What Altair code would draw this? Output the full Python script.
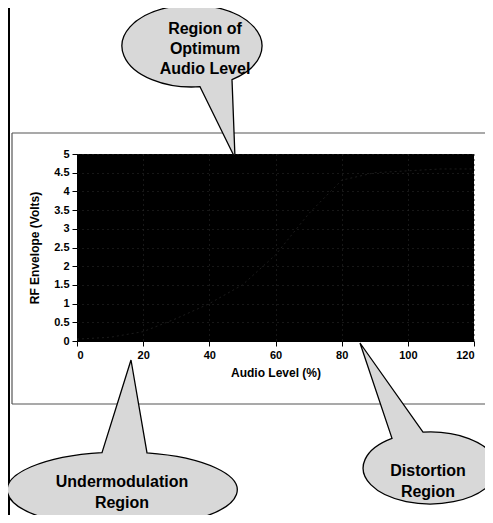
import altair as alt
import pandas as pd

# data (the curve is barely visible in the dark plot)
audio_level = [0, 10, 20, 30, 40, 50, 60, 70, 80, 90, 100, 110, 120]
rf_envelope = [0.05, 0.1, 0.25, 0.6, 1.0, 1.5, 2.3, 3.4, 4.3, 4.5, 4.55, 4.6, 4.6]
x_ticks = [0, 20, 40, 60, 80, 100, 120]
y_ticks = [0, 0.5, 1, 1.5, 2, 2.5, 3, 3.5, 4, 4.5, 5]

df = pd.DataFrame({"audio": audio_level, "rf": rf_envelope})
one = pd.DataFrame({"k": [0]})

FONT = "Liberation Sans"

line = alt.Chart(df).mark_line(color="#1c1c1c", strokeWidth=1, strokeDash=[2, 3]).encode(
    x=alt.X("audio:Q", scale=alt.Scale(domain=[0, 120], nice=False),
            axis=alt.Axis(values=x_ticks, title="Audio Level (%)", grid=True)),
    y=alt.Y("rf:Q", scale=alt.Scale(domain=[0, 5], nice=False),
            axis=alt.Axis(values=y_ticks, format="~g", title="RF Envelope (Volts)", grid=True)),
)

# chart-area frame (plot-relative pixels): top, bottom and left edges only
frame_top = alt.Chart(one).mark_rule(color="#555555", strokeWidth=1.2).encode(
    x=alt.value(-65), x2=alt.value(420), y=alt.value(-21))
frame_bottom = alt.Chart(one).mark_rule(color="#555555", strokeWidth=1.2).encode(
    x=alt.value(-65), x2=alt.value(420), y=alt.value(250))
frame_left = alt.Chart(one).mark_rule(color="#555555", strokeWidth=1.2).encode(
    x=alt.value(-65), y=alt.value(-21), y2=alt.value(250))
page_line = alt.Chart(one).mark_rule(color="black", strokeWidth=4).encode(
    x=alt.value(-69), y=alt.value(-150), y2=alt.value(400)
)

callouts = [
    # (center x, center y (page px), path)
    (192, 46, "M 8 40.7 L 43 112 L 40 33.6 A 70 41 0 1 0 8 40.7 Z"),
    (122, 490, "M -20 -37.4 L 9 -130 L 25 -37.1 A 115 38 0 1 1 -20 -37.4 Z"),
    (430, 468, "M -38 -29.6 L -70 -125 L -7 -35.8 A 67 36 0 1 1 -38 -29.6 Z"),
]
OX, OY = 77, 154
layers = [frame_top, frame_bottom, frame_left, page_line, line]
for cx, cy, path in callouts:
    layers.append(
        alt.Chart(one).mark_point(shape=path, size=4, filled=True, fill="#d8d8d8",
                                  stroke="black", strokeWidth=1.3, opacity=1).encode(
            x=alt.value(cx - OX), y=alt.value(cy - OY))
    )

texts = [
    ("Region of", 205, 29), ("Optimum", 205, 49), ("Audio Level", 205, 69),
    ("Undermodulation", 122, 482), ("Region", 122, 503),
    ("Distortion", 428, 471), ("Region", 428, 492),
]
for t, tx, ty in texts:
    layers.append(
        alt.Chart(one).mark_text(text=t, font=FONT, fontSize=16, fontWeight="bold",
                                 color="black", align="center", baseline="middle").encode(
            x=alt.value(tx - OX), y=alt.value(ty - OY))
    )

chart = alt.layer(*layers).properties(
    width=397, height=187,
    autosize=alt.AutoSizeParams(type="none"),
    padding={"left": 69, "top": 146, "right": 11, "bottom": 174},
    background="white",
).configure_view(fill="black", stroke=None).configure_axis(
    labelFont=FONT, titleFont=FONT, labelFontWeight="bold", titleFontWeight="bold",
    labelFontSize=11, titleFontSize=12, labelColor="black", titleColor="black",
    domainColor="black", tickColor="black", tickSize=5,
    gridColor="#2e2e2e", gridDash=[1, 4], gridWidth=1,
).configure_axisX(labelPadding=3, titlePadding=7).configure_axisY(labelPadding=3, titlePadding=12)

chart.save("out.html", embed_options={"renderer": "svg", "actions": False})
